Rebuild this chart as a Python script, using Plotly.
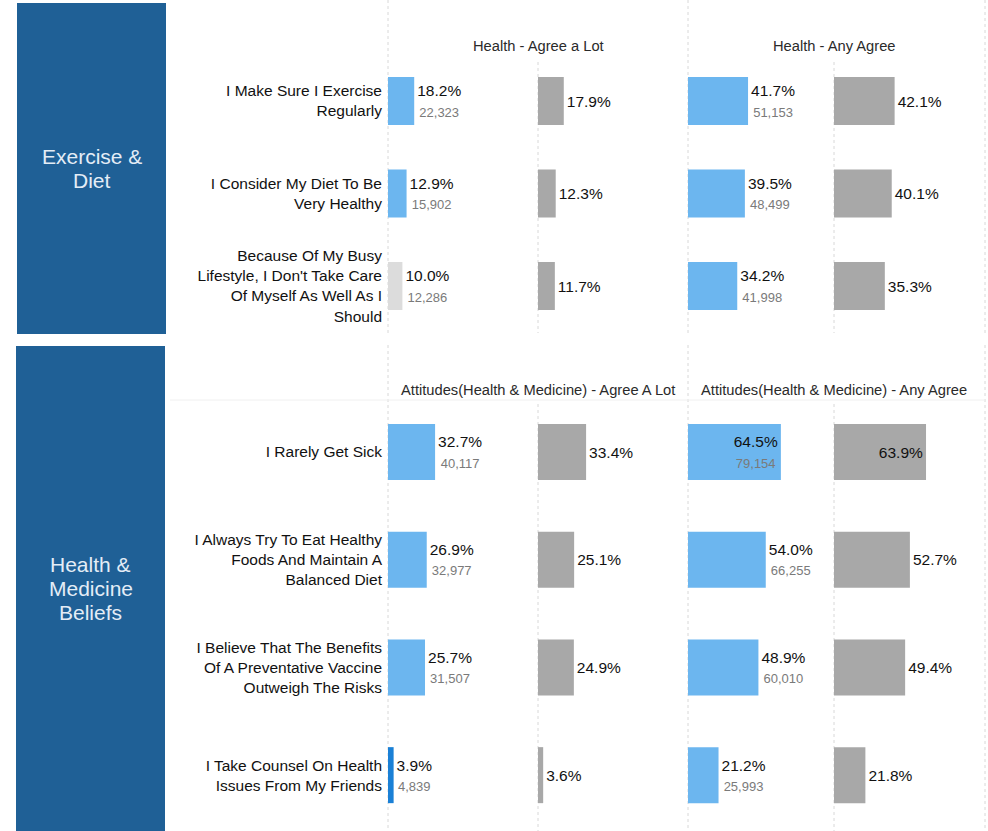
import plotly.graph_objects as go

# ---------------- data ----------------
top_categories = [
    "I Make Sure I Exercise<br>Regularly",
    "I Consider My Diet To Be<br>Very Healthy",
    "Because Of My Busy<br>Lifestyle, I Don't Take Care<br>Of Myself As Well As I<br>Should",
]
top_agree_lot_pct = [18.2, 12.9, 10.0]
top_agree_lot_count = [22323, 15902, 12286]
top_agree_lot_bench = [17.9, 12.3, 11.7]
top_any_agree_pct = [41.7, 39.5, 34.2]
top_any_agree_count = [51153, 48499, 41998]
top_any_agree_bench = [42.1, 40.1, 35.3]

bottom_categories = [
    "I Rarely Get Sick",
    "I Always Try To Eat Healthy<br>Foods And Maintain A<br>Balanced Diet",
    "I Believe That The Benefits<br>Of A Preventative Vaccine<br>Outweigh The Risks",
    "I Take Counsel On Health<br>Issues From My Friends",
]
bottom_agree_lot_pct = [32.7, 26.9, 25.7, 3.9]
bottom_agree_lot_count = [40117, 32977, 31507, 4839]
bottom_agree_lot_bench = [33.4, 25.1, 24.9, 3.6]
bottom_any_agree_pct = [64.5, 54.0, 48.9, 21.2]
bottom_any_agree_count = [79154, 66255, 60010, 25993]
bottom_any_agree_bench = [63.9, 52.7, 49.4, 21.8]

section_titles = [["Exercise &", "Diet"], ["Health &", "Medicine", "Beliefs"]]
top_column_titles = ["Health - Agree a Lot", "Health - Any Agree"]
bottom_column_titles = ["Attitudes(Health & Medicine) - Agree A Lot",
                        "Attitudes(Health & Medicine) - Any Agree"]

# ---------------- styles ----------------
W, H = 988, 831
FONT = "Liberation Sans, Arial, sans-serif"
BLUE = "#6cb6ef"
DARK_BLUE = "#1a80d6"
PALE = "#dcdcdc"
GRAY = "#a8a8a8"
PANEL = "#1f6096"
GRID = "#d8d8d8"
PX_PER_PCT = 1.44
INSIDE_THRESHOLD = 60
PANEL_LINE_H = 24

top_lot_colors = [BLUE, BLUE, PALE]
bottom_lot_colors = [BLUE, BLUE, BLUE, DARK_BLUE]

col_edges = [388, 538, 688, 834, 985]
sections = [
    dict(top=54.75, bottom=332.25, panel=(17, 3, 166, 334), head_y=46, line_top=0,
         sub_top=62, line_bottom=333),
    dict(top=398.15, bottom=829.0, panel=(16, 346, 165, 831), head_y=390, line_top=345,
         sub_top=404, line_bottom=831),
]


def px(x):
    return x / W


def py(y):
    return 1 - y / H


def pct_count_text(pcts, counts):
    return [f"{p:.1f}%<br><span style='font-size:13px;color:#7a7a7a'>{c:,}</span>"
            for p, c in zip(pcts, counts)]


def pct_text(pcts):
    return [f"{p:.1f}%" for p in pcts]


def positions(vals):
    return ["inside" if v > INSIDE_THRESHOLD else "outside" for v in vals]


fig = go.Figure()

section_data = [
    (top_categories,
     [(top_agree_lot_pct, pct_count_text(top_agree_lot_pct, top_agree_lot_count), top_lot_colors),
      (top_agree_lot_bench, pct_text(top_agree_lot_bench), GRAY),
      (top_any_agree_pct, pct_count_text(top_any_agree_pct, top_any_agree_count), BLUE),
      (top_any_agree_bench, pct_text(top_any_agree_bench), GRAY)]),
    (bottom_categories,
     [(bottom_agree_lot_pct, pct_count_text(bottom_agree_lot_pct, bottom_agree_lot_count), bottom_lot_colors),
      (bottom_agree_lot_bench, pct_text(bottom_agree_lot_bench), GRAY),
      (bottom_any_agree_pct, pct_count_text(bottom_any_agree_pct, bottom_any_agree_count), BLUE),
      (bottom_any_agree_bench, pct_text(bottom_any_agree_bench), GRAY)]),
]

layout_axes = {}
for s, (cats, cols) in enumerate(section_data):
    sec = sections[s]
    yname = "y" if s == 0 else "y2"
    ykey = "yaxis" if s == 0 else "yaxis2"
    first_x = s * 4 + 1
    layout_axes[ykey] = dict(
        domain=[py(sec["bottom"]), py(sec["top"])],
        type="category",
        categoryorder="array",
        categoryarray=cats,
        range=[len(cats) - 0.5, -0.5],
        anchor="x" if first_x == 1 else f"x{first_x}",
        showgrid=False, zeroline=False, showline=False, ticks="",
        ticklabelstandoff=5,
        tickfont=dict(family=FONT, size=15.5, color="#111111"),
        fixedrange=True,
    )
    for c, (vals, texts, color) in enumerate(cols):
        idx = s * 4 + c + 1
        xname = "x" if idx == 1 else f"x{idx}"
        xkey = "xaxis" if idx == 1 else f"xaxis{idx}"
        width_px = col_edges[c + 1] - col_edges[c]
        layout_axes[xkey] = dict(
            domain=[px(col_edges[c]), px(col_edges[c + 1])],
            range=[0, width_px / PX_PER_PCT],
            anchor=yname, visible=False, fixedrange=True,
        )
        fig.add_trace(go.Bar(
            y=cats, x=vals, orientation="h",
            xaxis=xname, yaxis=yname,
            width=0.52,
            marker=dict(color=color, line=dict(width=0)),
            text=texts,
            textposition=positions(vals),
            insidetextanchor="end",
            constraintext="none",
            cliponaxis=False,
            textfont=dict(family=FONT, size=15.5, color="#111111"),
            insidetextfont=dict(family=FONT, size=15.5, color="#111111"),
            outsidetextfont=dict(family=FONT, size=15.5, color="#111111"),
            hoverinfo="skip",
            showlegend=False,
        ))

shapes = []
annotations = []
for s, sec in enumerate(sections):
    x0, y0, x1, y1 = sec["panel"]
    shapes.append(dict(type="rect", xref="paper", yref="paper",
                       x0=px(x0), x1=px(x1), y0=py(y1), y1=py(y0),
                       fillcolor=PANEL, line=dict(width=0), layer="below"))
    lines = section_titles[s]
    cy = (y0 + y1) / 2
    for k, line in enumerate(lines):
        ly = cy + (k - (len(lines) - 1) / 2) * PANEL_LINE_H
        annotations.append(dict(xref="paper", yref="paper",
                                x=px((x0 + x1) / 2), y=py(ly),
                                text=line, showarrow=False,
                                xanchor="center", yanchor="middle", align="center",
                                font=dict(family=FONT, size=21, color="#e4edf6")))
    for i, xe in enumerate(col_edges):
        top_y = sec["sub_top"] if i in (1, 3) else sec["line_top"]
        shapes.append(dict(type="line", xref="paper", yref="paper",
                           x0=px(xe), x1=px(xe), y0=py(top_y), y1=py(sec["line_bottom"]),
                           line=dict(color=GRID, width=1, dash="dot"), layer="below"))
    titles = top_column_titles if s == 0 else bottom_column_titles
    for j, t in enumerate(titles):
        annotations.append(dict(xref="paper", yref="paper",
                                x=px(col_edges[1 + 2 * j]), y=py(sec["head_y"]),
                                text=t, showarrow=False,
                                xanchor="center", yanchor="middle",
                                font=dict(family=FONT, size=14.7, color="#2a2a2a")))

# faint rule under the lower header
shapes.append(dict(type="line", xref="paper", yref="paper",
                   x0=px(170), x1=px(985), y0=py(400), y1=py(400),
                   line=dict(color="#f0f0f0", width=1), layer="below"))

fig.update_layout(
    width=W, height=H,
    margin=dict(l=0, r=0, t=0, b=0),
    paper_bgcolor="white", plot_bgcolor="rgba(0,0,0,0)",
    barmode="overlay",
    shapes=shapes, annotations=annotations,
    font=dict(family=FONT),
    **layout_axes,
)

fig.write_html(
    "out.html",
    config={"displayModeBar": False},
    post_script="document.body.style.margin='0px';document.body.style.overflow='hidden';",
)
